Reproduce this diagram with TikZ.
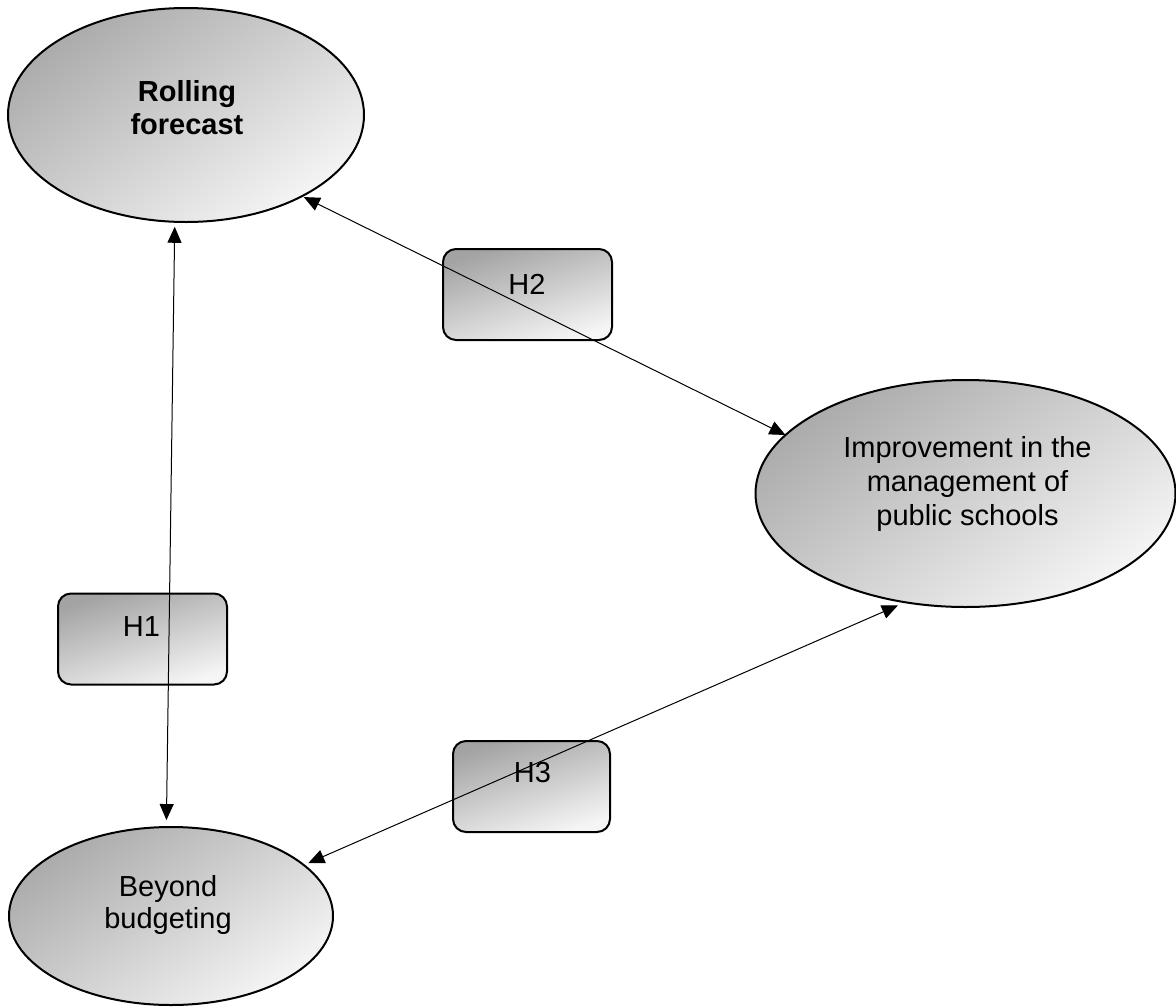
\documentclass[tikz,border=0pt]{standalone}
\usepackage{fontspec}
\setmainfont{Liberation Sans}
\usetikzlibrary{shapes.geometric,arrows.meta}
\begin{document}
\begin{tikzpicture}[x=1pt,y=-1pt,
  oval/.style={ellipse,draw,line width=2pt,inner sep=0pt,outer sep=0pt,
    top color=black!33,bottom color=black!4,shading angle=35},
  hbox/.style={rectangle,rounded corners=13pt,draw,line width=2pt,
    minimum width=169pt,minimum height=91pt,inner sep=0pt,outer sep=0pt,
    top color=black!36,bottom color=black!4,shading angle=18},
  lbl/.style={align=center,font=\fontsize{29}{34}\selectfont,inner sep=0pt},
  link/.style={line width=1pt,
    {Triangle[length=16pt,width=14pt]}-{Triangle[length=16pt,width=14pt]}},
]
\useasboundingbox (0,0) rectangle (1176,1007);

% constructs
\node[oval,minimum width=356pt,minimum height=214pt] (rf) at (186,115) {};
\node[oval,minimum width=420pt,minimum height=227pt] (im) at (965.5,493.5) {};
\node[oval,minimum width=324pt,minimum height=178pt] (bb) at (171,916) {};

\node[lbl,font=\fontsize{29}{33}\selectfont\bfseries] (rft) at (187,107.5) {Rolling\\forecast};
\node[lbl] (imt) at (967.5,483.5) {Improvement in the\\management of\\public schools};
\node[lbl,font=\fontsize{29}{32}\selectfont] (bbt) at (168,905) {Beyond\\budgeting};

% hypothesis boxes
\node[hbox] (h1) at (142.5,639) {};
\node[hbox] (h2) at (527.5,294.5) {};
\node[hbox,minimum width=157pt] (h3) at (531.5,786.5) {};

\node[lbl] (h1t) at (141.5,627) {H1};
\node[lbl] (h2t) at (527,284) {H2};
\node[lbl] (h3t) at (532.5,772.5) {H3};

% relations
\draw[link,shorten <=5pt,shorten >=7pt] (rf.-96) -- (bb.93.6);
\draw[link,shorten <=2pt] (rf.-35.6) -- (im.162);
\draw[link,shorten <=5pt,shorten >=8pt] (bb.21.5) -- (im.-119.3);
\end{tikzpicture}
\end{document}
